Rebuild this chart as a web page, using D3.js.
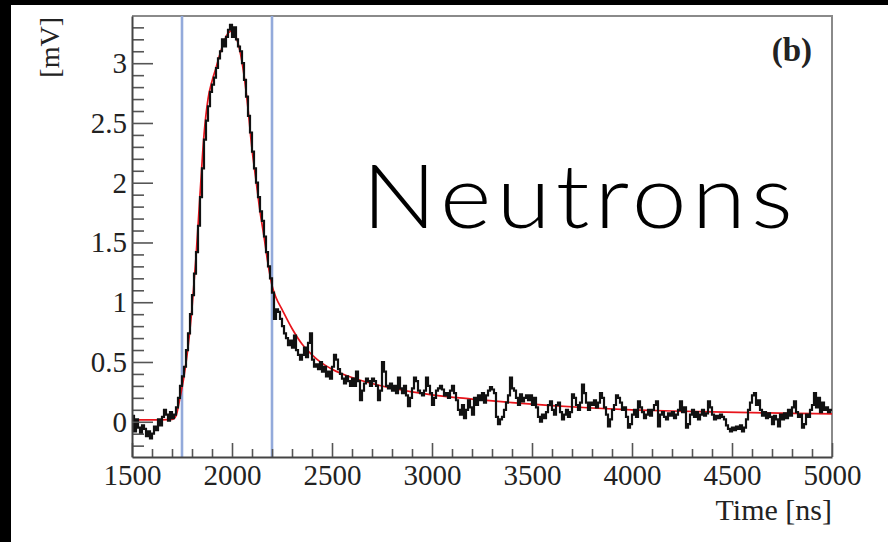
<!DOCTYPE html>
<html>
<head>
<meta charset="utf-8">
<script src="https://cdn.jsdelivr.net/npm/d3@7"></script>
<style>
  html, body { margin: 0; padding: 0; background: #000; }
  svg { display: block; }
</style>
</head>
<body>
<svg id="chart" width="888" height="542"></svg>
<script>
// Waveform histogram: 10 ns bins starting at 1500 ns, amplitude in mV
const binStart = 1500;
const binWidth = 10;
const signal = [
  0.05, -0.08, 0.02, -0.05, -0.10, -0.03, -0.06, -0.12, -0.08, -0.14,
  -0.10, -0.04, -0.07, 0.02, -0.03, 0.04, 0.10, 0.06, 0.01, 0.08,
  0.03, 0.06, 0.12, 0.20, 0.30, 0.38, 0.46, 0.60, 0.74, 0.90,
  1.06, 1.24, 1.42, 1.64, 1.88, 2.12, 2.36, 2.52, 2.64, 2.76,
  2.82, 2.88, 2.96, 3.04, 3.10, 3.20, 3.14, 3.22, 3.28, 3.32,
  3.22, 3.30, 3.20, 3.14, 3.10, 3.00, 2.86, 2.72, 2.56, 2.42,
  2.26, 2.12, 2.00, 1.88, 1.76, 1.68, 1.55, 1.42, 1.30, 1.20,
  1.08, 0.86, 0.94, 0.92, 0.86, 0.80, 0.74, 0.70, 0.64, 0.68,
  0.62, 0.72, 0.60, 0.56, 0.52, 0.56, 0.62, 0.54, 0.66, 0.74,
  0.52, 0.46, 0.48, 0.44, 0.50, 0.42, 0.46, 0.38, 0.42, 0.36,
  0.46, 0.56, 0.52, 0.44, 0.40, 0.36, 0.32, 0.38, 0.34, 0.30,
  0.36, 0.30, 0.42, 0.34, 0.18, 0.26, 0.32, 0.36, 0.34, 0.30,
  0.36, 0.34, 0.30, 0.18, 0.26, 0.50, 0.42, 0.30, 0.28, 0.32,
  0.26, 0.30, 0.24, 0.37, 0.28, 0.24, 0.30, 0.22, 0.13, 0.20,
  0.28, 0.37, 0.34, 0.26, 0.24, 0.22, 0.26, 0.37, 0.30, 0.24,
  0.14, 0.20, 0.26, 0.28, 0.30, 0.27, 0.22, 0.24, 0.20, 0.26,
  0.30, 0.24, 0.18, 0.10, 0.06, 0.14, 0.03, 0.10, 0.18, 0.12,
  0.06, 0.20, 0.14, 0.22, 0.18, 0.24, 0.16, 0.22, 0.26, 0.29,
  0.27, 0.24, 0.04, -0.02, 0.02, 0.04, 0.10, 0.16, 0.22, 0.37,
  0.28, 0.26, 0.20, 0.14, 0.23, 0.17, 0.20, 0.22, 0.18, 0.22,
  0.14, 0.20, 0.12, 0.04, 0.00, 0.06, 0.03, 0.08, 0.14, 0.17,
  0.10, 0.06, 0.14, 0.16, 0.08, 0.02, 0.06, 0.10, 0.04, 0.08,
  0.23, 0.20, 0.14, 0.10, 0.16, 0.31, 0.24, 0.16, 0.10, 0.16,
  0.14, 0.18, 0.12, 0.16, 0.24, 0.20, 0.12, 0.06, -0.04, 0.02,
  0.10, 0.14, 0.22, 0.20, 0.16, 0.10, 0.12, 0.04, -0.05, -0.02,
  0.06, 0.10, 0.04, 0.17, 0.12, 0.08, 0.03, 0.06, 0.10, 0.05,
  0.10, 0.14, 0.17, -0.04, 0.06, 0.08, 0.04, 0.02, 0.07, 0.05,
  0.08, 0.03, 0.06, 0.10, 0.17, 0.08, 0.12, -0.05, -0.02, 0.06,
  0.10, 0.04, 0.08, 0.02, 0.06, 0.10, 0.05, 0.07, 0.17, 0.12,
  0.06, 0.02, 0.05, 0.03, 0.06, 0.04, 0.02, -0.03, -0.06, -0.08,
  -0.05, -0.07, -0.04, -0.06, -0.03, -0.08, -0.05, 0.02, 0.10, 0.16,
  0.22, 0.24, 0.14, 0.18, 0.10, 0.05, 0.08, 0.03, 0.07, 0.04,
  -0.02, 0.05, 0.02, -0.04, 0.06, 0.02, 0.07, 0.03, 0.10, 0.05,
  0.12, 0.17, 0.08, 0.04, 0.06, -0.05, -0.02, 0.06, 0.04, 0.10,
  0.14, 0.24, 0.12, 0.20, 0.08, 0.16, 0.10, 0.12, 0.08, 0.10
];

// Pulse-shape fit, sampled in time (ns) and amplitude (mV)
const fitTimes = [1500, 1600, 1700, 1720, 1740, 1760, 1780, 1800, 1820, 1840,
  1860, 1880, 1900, 1920, 1940, 1960, 1980, 2000, 2020, 2040, 2060, 2080,
  2100, 2120, 2140, 2160, 2180, 2200, 2220, 2250, 2300, 2350, 2400, 2450,
  2500, 2600, 2700, 2800, 2900, 3000, 3200, 3400, 3600, 3800, 4000, 4200,
  4400, 4600, 4800, 5000];
const fitValues = [0.015, 0.015, 0.02, 0.05, 0.20, 0.38, 0.62, 0.95, 1.38, 1.90,
  2.40, 2.70, 2.85, 2.96, 3.08, 3.18, 3.25, 3.27, 3.22, 3.10, 2.90, 2.62,
  2.28, 2.02, 1.76, 1.55, 1.32, 1.14, 1.04, 0.94, 0.78, 0.65, 0.56, 0.49,
  0.44, 0.37, 0.32, 0.28, 0.25, 0.225, 0.19, 0.16, 0.135, 0.115, 0.10, 0.09,
  0.082, 0.076, 0.07, 0.066];

// Integration gate edges (ns)
const gateTimes = [1750, 2200];

const xMajorTicks = [1500, 2000, 2500, 3000, 3500, 4000, 4500, 5000];
const yMajorTicks = [0, 0.5, 1, 1.5, 2, 2.5, 3];
const yTickLabels = ["0", "0.5", "1", "1.5", "2", "2.5", "3"];
const xTitle = "Time [ns]";
const yTitle = "[mV]";
const panelTag = "(b)";
const caption = "Neutrons";

const svg = d3.select("#chart");
const W = 888, H = 542;
const plot = { left: 132, right: 832, top: 16, bottom: 457 };

// Canvas: black surround, white page
svg.append("rect").attr("width", W).attr("height", H).attr("fill", "#000");
svg.append("rect").attr("x", 11).attr("y", 5).attr("width", W - 11).attr("height", H - 5).attr("fill", "#fff");

const x = d3.scaleLinear().domain([1500, 5000]).range([plot.left, plot.right]);
const y = d3.scaleLinear().domain([-0.295, 3.395]).range([plot.bottom, plot.top]);

const serif = "'Liberation Serif', 'Times New Roman', Times, serif";

// Frame (top and right sides)
svg.append("path")
  .attr("d", `M${plot.left},${plot.top}H${plot.right}V${plot.bottom}`)
  .attr("fill", "none").attr("stroke", "#8a8a8a").attr("stroke-width", 2);

// Gate lines
svg.append("g").selectAll("line").data(gateTimes).join("line")
  .attr("x1", d => x(d)).attr("x2", d => x(d))
  .attr("y1", plot.top).attr("y2", plot.bottom)
  .attr("stroke", "#93aadb").attr("stroke-width", 2.6);

// Fit curve
const fitPts = fitTimes.map((t, i) => [t, fitValues[i]]);
svg.append("path")
  .datum(fitPts)
  .attr("d", d3.line().x(d => x(d[0])).y(d => y(d[1])).curve(d3.curveMonotoneX))
  .attr("fill", "none").attr("stroke", "#e8141b").attr("stroke-width", 1.7);

// Waveform histogram as a step line
const histPts = signal.map((v, i) => [binStart + i * binWidth, v]);
histPts.push([binStart + signal.length * binWidth, signal[signal.length - 1]]);
svg.append("path")
  .datum(histPts)
  .attr("d", d3.line().x(d => x(d[0])).y(d => y(d[1])).curve(d3.curveStepAfter))
  .attr("fill", "none").attr("stroke", "#111").attr("stroke-width", 2.2)
  .attr("stroke-linejoin", "miter");

// Minor ticks
const xMinor = d3.range(1600, 5000, 100).filter(t => t % 500 !== 0);
const yMinor = d3.range(-2, 34).map(k => k / 10).filter(v => Math.round(v * 10) % 5 !== 0);

svg.append("g")
  .attr("transform", `translate(0,${plot.bottom})`)
  .call(d3.axisBottom(x).tickValues(xMinor).tickSize(-8).tickSizeOuter(0).tickFormat(""))
  .call(g => g.select(".domain").remove())
  .call(g => g.selectAll(".tick line").attr("stroke", "#555").attr("stroke-width", 1.6));

svg.append("g")
  .attr("transform", `translate(${plot.left},0)`)
  .call(d3.axisLeft(y).tickValues(yMinor).tickSize(-12).tickSizeOuter(0).tickFormat(""))
  .call(g => g.select(".domain").remove())
  .call(g => g.selectAll(".tick line").attr("stroke", "#555").attr("stroke-width", 1.6));

// Major ticks with labels
const xAxis = svg.append("g")
  .attr("transform", `translate(0,${plot.bottom})`)
  .call(d3.axisBottom(x).tickValues(xMajorTicks).tickSize(-14).tickSizeOuter(0).tickPadding(7).tickFormat(d3.format("d")));
xAxis.select(".domain").attr("stroke", "#444").attr("stroke-width", 2);
xAxis.selectAll(".tick line").attr("stroke", "#555").attr("stroke-width", 1.6);
xAxis.selectAll(".tick text").attr("fill", "#222").style("font-family", serif).style("font-size", "29px");

const yAxis = svg.append("g")
  .attr("transform", `translate(${plot.left},0)`)
  .call(d3.axisLeft(y).tickValues(yMajorTicks).tickSize(-21).tickSizeOuter(0).tickPadding(5)
    .tickFormat((d, i) => yTickLabels[i]));
yAxis.select(".domain").attr("stroke", "#444").attr("stroke-width", 2);
yAxis.selectAll(".tick line").attr("stroke", "#555").attr("stroke-width", 1.6);
yAxis.selectAll(".tick text").attr("fill", "#222").style("font-family", serif).style("font-size", "29px");

// Axis titles
svg.append("text")
  .attr("x", plot.right).attr("y", 520)
  .attr("text-anchor", "end")
  .attr("fill", "#222").style("font-family", serif).style("font-size", "30px")
  .text(xTitle);

svg.append("text")
  .attr("transform", "translate(59,17) rotate(-90)")
  .attr("text-anchor", "end")
  .attr("fill", "#222").style("font-family", serif).style("font-size", "28px")
  .text(yTitle);

// Panel tag
svg.append("text")
  .attr("x", 812).attr("y", 61)
  .attr("text-anchor", "end")
  .attr("fill", "#222").style("font-family", serif).style("font-size", "33px").style("font-weight", "bold")
  .text(panelTag);

// Caption, slightly widened geometric sans
svg.append("text")
  .attr("transform", "translate(362,228) scale(1.12,1)")
  .attr("textLength", 431 / 1.12).attr("lengthAdjust", "spacing")
  .attr("fill", "#000").style("font-family", "Lato, 'Open Sans', sans-serif")
  .style("font-size", "88px").style("font-weight", 300)
  .text(caption);
</script>
</body>
</html>
